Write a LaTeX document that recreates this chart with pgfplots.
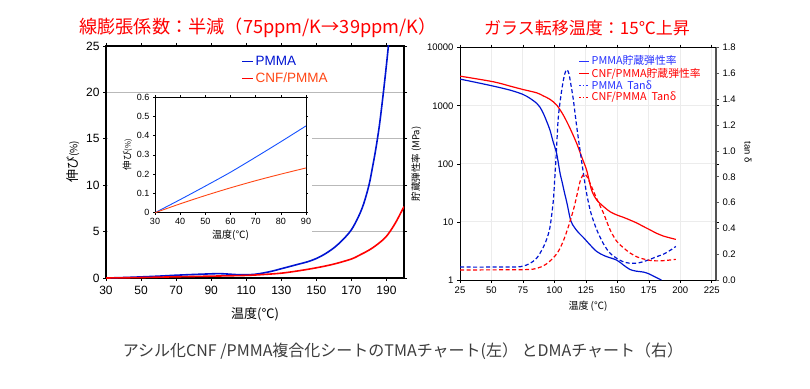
\documentclass[border=0pt]{standalone}
\usepackage{pgfplots}
\pgfplotsset{compat=1.18}
\usepackage{fontspec}
\setmainfont{Liberation Sans}
\newfontfamily\jp{Noto Sans CJK JP}
\definecolor{pblue}{RGB}{0,20,210}
\definecolor{pred}{RGB}{255,0,0}
\definecolor{iblue}{RGB}{20,80,255}
\definecolor{ired}{RGB}{255,70,20}
\definecolor{lblue}{RGB}{40,50,255}
\definecolor{capgray}{RGB}{60,60,60}
\pgfplotsset{/pgf/number format/assume math mode=true}
\begin{document}
\begin{tikzpicture}[x=1pt,y=1pt]
\path[use as bounding box] (0,0) rectangle (810,388);
% titles
\node[text=pred, font=\jp\fontsize{18.2}{19}\selectfont] at (258,360) {線膨張係数：半減（75ppm/K→39ppm/K）};
\node[text=pred, font=\jp\fontsize{17}{18}\selectfont] at (587,360) {ガラス転移温度：15℃上昇};
\node[text=capgray, font=\jp\fontsize{16}{16}\selectfont] at (403,37) {アシル化CNF /PMMA複合化シートのTMAチャート(左） とDMAチャート（右）};

% ===== left main axis =====
\begin{axis}[at={(106pt,110pt)}, anchor=south west, scale only axis,
  width=298pt, height=232pt,
  xmin=30, xmax=200, ymin=0, ymax=25,
  xtick={30,50,...,190}, ytick={0,5,...,25},
  ymajorgrids, grid style={gray!55, line width=0.8pt},
  tick align=outside, major tick length=3pt,
  tick style={black, line width=0.6pt},
  axis line style={line width=1.1pt},
  ticklabel style={font=\fontsize{12}{12}\selectfont},
  xticklabel style={yshift=-2pt},
  xlabel={\jp 温度(℃)}, xlabel style={font=\jp\fontsize{13}{13}\selectfont, yshift=-6pt},
  ylabel={\jp 伸び{\fontsize{10}{10}\selectfont(\%)}}, ylabel style={font=\jp\fontsize{13}{13}\selectfont, yshift=0pt},
  legend style={at={(axis description cs:0.455,0.965)}, anchor=north west, draw=none, fill=none,
    font=\fontsize{13.5}{13.5}\selectfont, row sep=2pt, inner sep=0pt},
  legend cell align=left,
  legend image code/.code={\draw[#1, line width=0.8pt] (0pt,0pt) -- (11pt,0pt);},
  every axis plot/.append style={line width=1.6pt, smooth, tension=0.55},
]
\addplot[pblue] coordinates {(30,0) (40,0.05) (50,0.12) (60,0.2) (70,0.3) (80,0.38) (90,0.45) (95,0.47) (100,0.42) (105,0.36) (110,0.35) (115,0.4) (120,0.55) (125,0.75) (130,1.0) (135,1.25) (140,1.5) (145,1.75) (150,2.1) (155,2.6) (160,3.25) (165,4.1) (170,5.2) (174,6.6) (177,8.0) (180,10.0) (182,11.9) (184,14.0) (186,16.5) (188,19.6) (190,23.0) (191.5,25.8) (192,27)};
\addlegendentry{\textcolor{pblue}{PMMA}}
\addplot[pred] coordinates {(30,0) (50,0.05) (70,0.13) (90,0.2) (110,0.28) (120,0.38) (130,0.52) (140,0.78) (150,1.1) (160,1.5) (170,2.05) (175,2.5) (180,3.0) (185,3.65) (190,4.5) (195,5.9) (200,7.7)};
\addlegendentry{\textcolor{ired}{CNF/PMMA}}
\end{axis}
\fill[white] (107.5,140) rectangle (312,294);

% ===== inset =====
\begin{axis}[at={(155pt,175.3pt)}, anchor=south west, scale only axis,
  width=151pt, height=115.7pt,
  xmin=30, xmax=90, ymin=0, ymax=0.6,
  xtick={30,40,...,90}, ytick={0,0.1,...,0.6},
  tick align=outside, major tick length=2pt,
  tick style={black, line width=0.5pt},
  axis line style={line width=1pt},
  axis background/.style={fill=white},
  ticklabel style={font=\fontsize{9}{9}\selectfont},
  yticklabel style={/pgf/number format/.cd, fixed},
  xlabel={\jp 温度(℃)}, xlabel style={font=\jp\fontsize{10}{10}\selectfont, yshift=1pt},
  ylabel={\jp 伸び{\fontsize{7.5}{7.5}\selectfont(\%)}}, ylabel style={font=\jp\fontsize{9.5}{9.5}\selectfont, yshift=-2pt},
]
\addplot[iblue, line width=0.9pt, smooth] coordinates {(30,0) (40,0.068) (50,0.138) (60,0.21) (70,0.288) (80,0.368) (90,0.45)};
\addplot[ired, line width=0.9pt, smooth] coordinates {(30,0) (40,0.046) (50,0.089) (60,0.129) (70,0.166) (80,0.2) (90,0.232)};
\end{axis}

% ===== right: storage modulus =====
\begin{axis}[at={(460pt,108pt)}, anchor=south west, scale only axis,
  width=256pt, height=232.3pt,
  xmin=25, xmax=228.4, ymode=log, ymin=1, ymax=10000,
  xtick={25,50,...,225}, ytick={1,10,100,1000,10000},
  yticklabels={1,10,100,1000,10000},
  yminorticks=false,
  grid=major, grid style={gray!15, line width=0.9pt},
  tick align=outside, major tick length=3pt,
  tick style={black, line width=0.6pt},
  axis line style={line width=1pt},
  ticklabel style={font=\fontsize{9.5}{9.5}\selectfont},
  xlabel={\jp 温度 (℃)}, xlabel style={font=\jp\fontsize{10}{10}\selectfont, yshift=-1pt},
  ylabel={\jp 貯蔵弾性率 (MPa)}, ylabel style={font=\jp\fontsize{9.5}{9.5}\selectfont, yshift=-1pt},
  every axis plot/.append style={line width=1.2pt, smooth, tension=0.5},
]
\addplot[pblue] coordinates {(25,2880) (35,2600) (51.5,2180) (64.8,1860) (75,1570) (80.7,1340) (86,1100) (88.5,950) (91.2,740) (94,530) (96.5,380) (99,240) (101.8,150) (104.5,69) (106,50) (108,32) (110,21) (113,10.5) (116,8) (119,6.6) (123,5.4) (128,4.1) (133.6,3.1) (140,2.6) (149.5,2.2) (155,1.8) (160,1.52) (165,1.42) (170.7,1.37) (175,1.28) (180,1.13) (185,1.0)};
\addplot[pred] coordinates {(25,3240) (51.5,2590) (64.8,2180) (75.3,1900) (86,1670) (91.2,1480) (96.5,1290) (101.8,1030) (107.1,690) (112.4,410) (117.7,225) (121.6,133) (125.6,78) (129.6,35) (133.6,24) (138.9,18.5) (144.2,15) (149.5,13.2) (154.8,12) (160,10.8) (165.4,9.6) (170,8.5) (176,7.3) (181,6.4) (186.7,5.7) (192,5.3) (196.5,5.0)};
\end{axis}

% ===== right: tan delta =====
\begin{axis}[at={(460pt,108pt)}, anchor=south west, scale only axis,
  width=256pt, height=232.3pt,
  xmin=25, xmax=228.4, ymin=0, ymax=1.8,
  axis x line=none, axis y line*=right,
  ytick={0,0.2,...,1.8},
  yticklabel style={/pgf/number format/.cd, fixed, fixed zerofill, precision=1},
  tick align=outside, major tick length=3pt,
  tick style={gray!70!black, line width=0.6pt},
  y axis line style={gray!65!black, line width=1.8pt},
  ticklabel style={font=\fontsize{9.5}{9.5}\selectfont},
  ylabel={tan δ}, ylabel style={font=\fontsize{9.5}{9.5}\selectfont, at={(axis description cs:1.125,0.55)}, anchor=center, rotate=180},
  legend style={at={(axis description cs:0.462,0.975)}, anchor=north west, draw=none, fill=none,
    font=\jp\fontsize{10.8}{10.8}\selectfont, row sep=-2.3pt, inner sep=0pt},
  legend cell align=left,
  legend image code/.code={\draw[#1] (0pt,0pt) -- (10pt,0pt);},
  every axis plot/.append style={line width=1.2pt, smooth, tension=0.5, dash pattern=on 4pt off 2.5pt},
]
\addlegendimage{lblue, line width=0.8pt, solid}
\addlegendentry{\textcolor{lblue}{PMMA貯蔵弾性率}}
\addlegendimage{pred, line width=0.8pt, solid}
\addlegendentry{\textcolor{pred}{CNF/PMMA貯蔵弾性率}}
\addlegendimage{lblue, line width=1.2pt, dash pattern=on 1.5pt off 2pt}
\addlegendentry{\textcolor{lblue}{PMMA\ \ Tanδ}}
\addlegendimage{pred, line width=1.2pt, dash pattern=on 1.5pt off 2pt}
\addlegendentry{\textcolor{pred}{CNF/PMMA\ \ Tanδ}}
\addplot[pblue] coordinates {(25,0.1) (50,0.1) (70,0.101) (75,0.108) (80,0.125) (86,0.17) (91,0.25) (94,0.32) (96.5,0.41) (99,0.6) (100,0.74) (101.5,0.98) (103.1,1.26) (105.8,1.47) (108,1.59) (109.8,1.63) (111.5,1.6) (113,1.52) (115,1.4) (117.7,1.19) (120.3,1.01) (123,0.83) (125.6,0.67) (129,0.52) (133.6,0.39) (139,0.28) (144,0.21) (150,0.165) (155,0.14) (160,0.13) (165,0.13) (170,0.14) (176,0.16) (181,0.18) (186.7,0.2) (192,0.23) (196.5,0.26)};
\addplot[pred] coordinates {(25,0.078) (75,0.08) (86,0.09) (93,0.12) (99,0.17) (103,0.22) (107,0.3) (111,0.41) (115,0.54) (117.5,0.64) (120.3,0.76) (122.4,0.81) (124,0.82) (126,0.8) (128.3,0.75) (131,0.69) (133.6,0.63) (138.9,0.52) (144.2,0.39) (149.5,0.3) (154.8,0.25) (160,0.21) (165.4,0.18) (170,0.165) (176,0.152) (181,0.148) (186.7,0.15) (192,0.155) (196.5,0.16)};
\end{axis}
\end{tikzpicture}
\end{document}
